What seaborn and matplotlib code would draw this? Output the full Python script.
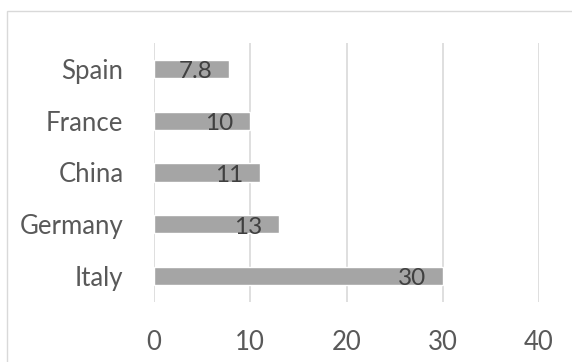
import matplotlib
matplotlib.use("Agg")
import matplotlib.pyplot as plt
from matplotlib.patches import Rectangle
import seaborn as sns
import pandas as pd

countries = ["Spain", "France", "China", "Germany", "Italy"]
values = [7.8, 10, 11, 13, 30]
x_ticks = [0, 10, 20, 30, 40]

sns.set_theme(style="white")
plt.rcParams["font.family"] = ["Lato", "DejaVu Sans"]

W, H = 572, 362
fig = plt.figure(figsize=(W / 100, H / 100), dpi=100)
ax = fig.add_axes([154 / W, 1 - 302 / H, (539 - 154) / W, (302 - 43) / H])

df = pd.DataFrame({"country": countries, "value": values})
sns.barplot(data=df, x="value", y="country", orient="h", color="#a5a5a5",
            saturation=1, width=0.35, ax=ax, zorder=3)

ax.set_xlim(0, 40)
ax.set_xticks(x_ticks)
ax.set_xticklabels([str(t) for t in x_ticks])
ax.set_xlabel("")
ax.set_ylabel("")
for s in ax.spines.values():
    s.set_visible(False)
ax.grid(axis="x", color="#d9d9d9", linewidth=1.2, zorder=0)
ax.grid(axis="y", visible=False)
ax.tick_params(axis="x", length=0, pad=20, labelsize=18.5, labelcolor="#595959")
ax.tick_params(axis="y", length=0, pad=22, labelsize=18.5, labelcolor="#595959")

# value labels near the inner end of each bar
for i, v in enumerate(values):
    ax.annotate(f"{v:g}", xy=(v, i), xytext=(-12, -2), textcoords="offset points",
                ha="right", va="center", fontsize=17.5, color="#404040", zorder=4)

# light chart-area frame
fig.patches.append(Rectangle((7 / W, -0.1), 1.2, 1 - 11 / H + 0.1,
                             transform=fig.transFigure, fill=False,
                             edgecolor="#d9d9d9", linewidth=1.0))

fig.savefig("out.png", dpi=100, facecolor="white")
